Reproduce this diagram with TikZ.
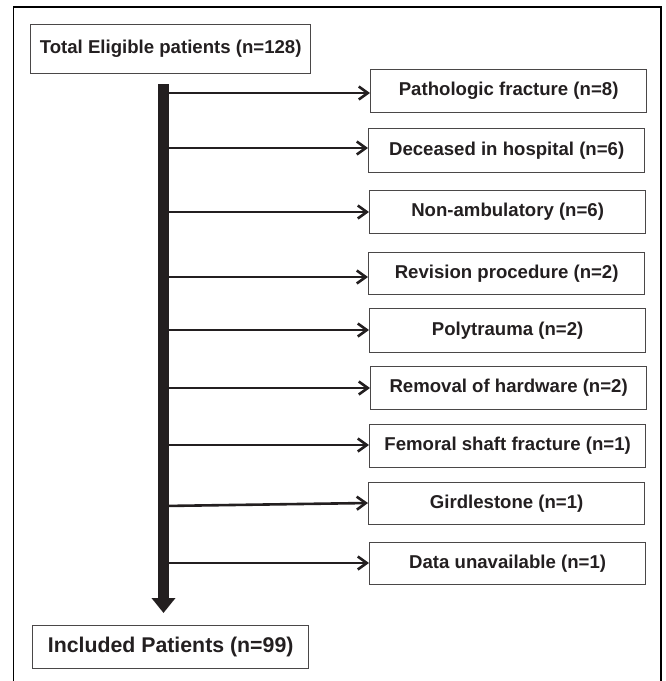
\documentclass[tikz,border=0pt]{standalone}
\usepackage{fontspec}
\setmainfont{Liberation Sans}
\usetikzlibrary{arrows.meta}
\definecolor{ink}{HTML}{231F20}
\definecolor{boxline}{HTML}{4A4748}
\begin{document}
\begin{tikzpicture}[x=1pt,y=-1pt,
  box/.style={draw=boxline, line width=1.3pt, anchor=north west, minimum width=276pt,
    minimum height=43pt, inner sep=0pt, text=ink,
    font=\fontsize{18.6pt}{22pt}\selectfont\bfseries},
  arr/.style={draw=ink, line width=2.6pt,
    -{Straight Barb[length=9pt,width=13pt,line width=2.6pt]}},
  bigarr/.style={draw=ink, line width=11pt, -{Triangle[length=15pt,width=23pt]}},
  frame/.style={draw=black, line width=1.8pt}
  ]
\useasboundingbox (0,0) rectangle (665,681);
\draw[frame] (13.5,681) -- (13.5,7) -- (661,7) -- (661,681);

\node[box, minimum width=280pt, minimum height=49pt] (top) at (30,24) {Total Eligible patients (n=128)};
\node[box] (b1) at (370,69)  {Pathologic fracture (n=8)};
\node[box, minimum height=44pt] (b2) at (368,128) {Deceased in hospital (n=6)};
\node[box] (b3) at (369,190) {Non-ambulatory (n=6)};
\node[box, minimum height=42pt] (b4) at (368,252) {Revision procedure (n=2)};
\node[box, minimum height=44pt] (b5) at (369,308) {Polytrauma (n=2)};
\node[box] (b6) at (370,366) {Removal of hardware (n=2)};
\node[box] (b7) at (369,424) {Femoral shaft fracture (n=1)};
\node[box, minimum height=42pt] (b8) at (368,482) {Girdlestone (n=1)};
\node[box, minimum height=42pt] (b9) at (369,542) {Data unavailable (n=1)};
\node[box, minimum height=43pt, font=\fontsize{21.3pt}{25pt}\selectfont\bfseries] (bot) at (32,625) {Included Patients (n=99)};

\coordinate (barT) at (163.5,84);

\draw[arr] (barT |- 0,93)  -- (b1.west |- 0,93);
\draw[arr] (barT |- 0,148) -- (b2.west |- 0,148);
\draw[arr] (barT |- 0,212) -- (b3.west |- 0,212);
\draw[arr] (barT |- 0,277) -- (b4.west |- 0,277);
\draw[arr] (barT |- 0,330) -- (b5.west |- 0,330);
\draw[arr] (barT |- 0,388) -- (b6.west |- 0,388);
\draw[arr] (barT |- 0,445) -- (b7.west |- 0,445);
\draw[arr] (barT |- 0,506) -- (b8.west |- 0,503);
\draw[arr] (barT |- 0,563) -- (b9.west |- 0,563);

\draw[bigarr, shorten >=12pt] (barT) -- (barT |- bot.north);
\end{tikzpicture}
\end{document}
